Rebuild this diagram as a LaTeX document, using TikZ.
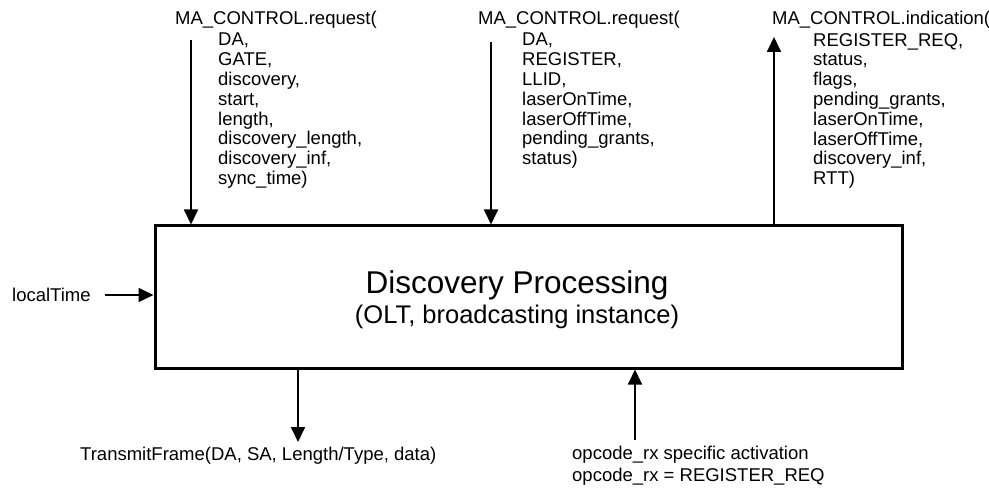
\documentclass[tikz,border=0pt]{standalone}
\usepackage{fontspec}
\setmainfont{Liberation Sans}
\usetikzlibrary{arrows.meta,positioning}
\begin{document}
\begin{tikzpicture}[x=1pt,y=-1pt,
    lbl/.style={inner sep=0pt, font=\fontsize{18.5}{19.8}\selectfont},
    plist/.style={lbl, align=left, anchor=north west},
    sig/.style={line width=1.8pt, -{Triangle[width=14pt,length=15pt]}}]
    \useasboundingbox (0,0) rectangle (989,492);
    %% main block
    \node[draw, line width=3pt, minimum width=747pt, minimum height=142pt, inner sep=0pt] (proc) at (528.5,297) {};
    \node[inner sep=0pt, font=\fontsize{31.5}{34}\selectfont] (ptitle) at (517,285) {Discovery Processing};
    \node[inner sep=0pt, font=\fontsize{25.5}{28}\selectfont] (psub) at (517,317) {(OLT, broadcasting instance)};
    %% GATE request
    \node[lbl, anchor=base west] (gatereq) at (175,25) {MA\_CONTROL.request(};
    \node[plist] (gateargs) at (218,33) {DA,\\GATE,\\discovery,\\start,\\length,\\discovery\_length,\\discovery\_inf,\\sync\_time)};
    \coordinate (gatein) at (191,40);
    \draw[sig] (gatein) -- (gatein |- proc.north);
    %% REGISTER request
    \node[lbl, anchor=base west] (regreq) at (478,25) {MA\_CONTROL.request(};
    \node[plist] (regargs) at (522,33) {DA,\\REGISTER,\\LLID,\\laserOnTime,\\laserOffTime,\\pending\_grants,\\status)};
    \coordinate (regin) at (491,42);
    \draw[sig] (regin) -- (regin |- proc.north);
    %% REGISTER_REQ indication
    \node[lbl, anchor=base west] (regind) at (772,25) {MA\_CONTROL.indication(};
    \node[plist] (indargs) at (813,33) {REGISTER\_REQ,\\status,\\flags,\\pending\_grants,\\laserOnTime,\\laserOffTime,\\discovery\_inf,\\RTT)};
    \coordinate (indout) at (774,37);
    \draw[sig] (indout |- proc.north) -- (indout);
    %% local time
    \node[lbl, anchor=west] (ltime) at (12,295) {localTime};
    \draw[sig] ([xshift=14pt]ltime.east) -- (ltime -| proc.west);
    %% transmit
    \node[lbl, anchor=west] (txframe) at (80,456) {TransmitFrame(DA, SA, Length/Type, data)};
    \coordinate (txout) at (298,442);
    \draw[sig] (txout |- proc.south) -- (txout);
    %% opcode activation
    \node[lbl, anchor=north west, align=left, font=\fontsize{18.5}{22}\selectfont] (opact) at (572,446) {opcode\_rx specific activation\\opcode\_rx = REGISTER\_REQ};
    \coordinate (opin) at (635,440);
    \draw[sig] (opin) -- (opin |- proc.south);
\end{tikzpicture}
\end{document}
